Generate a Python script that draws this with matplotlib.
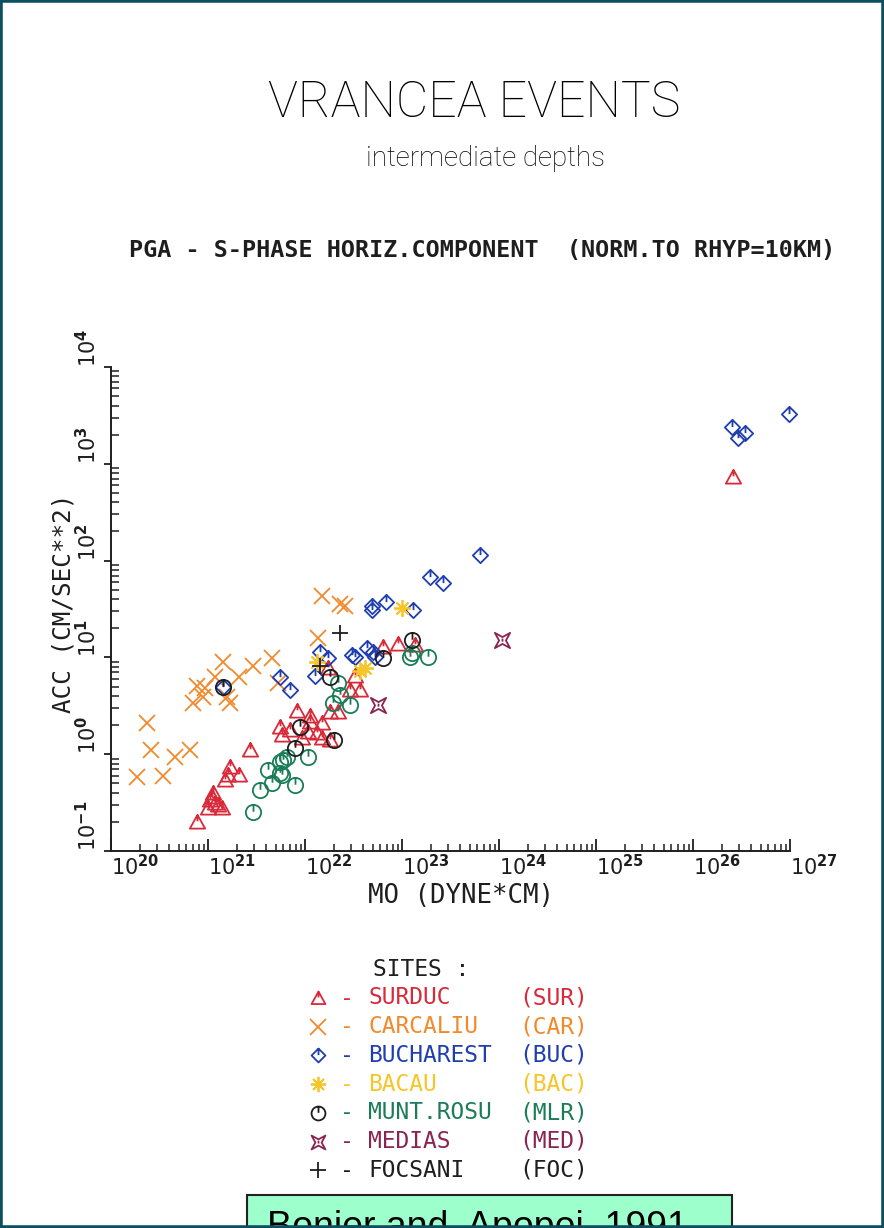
import numpy as np
import matplotlib
matplotlib.use('Agg')
from matplotlib import pyplot as plt
from matplotlib.path import Path
from matplotlib.patches import Rectangle


# seismic moment (dyne*cm) and normalised PGA (cm/s^2) per recording site
sur_m0 = [2.7e21, 1.7e21, 2.1e21, 1.5e21, 1.6e21, 1.13e21, 1.05e21, 1.18e21, 1.27e21,
          1.0e21, 1.4e21, 7.7e20, 1.1e21, 6.4e22, 9.1e22, 1.36e23, 1.73e22, 3.3e22,
          2.9e22, 3.7e22, 8.3e21, 1.13e22, 1.13e22, 1.5e22, 1.8e22, 2.2e22, 5.5e21,
          5.8e21, 7.0e21, 1.07e22, 1.33e22, 1.5e22, 9.3e21, 1.8e22, 2.6e26]
sur_acc = [1.1, 0.73, 0.61, 0.54, 0.61, 0.40, 0.34, 0.31, 0.30,
           0.28, 0.28, 0.20, 0.36, 12.7, 13.9, 13.3, 7.7, 6.5,
           4.6, 4.6, 2.8, 2.5, 2.14, 2.1, 2.7, 2.7, 1.9,
           1.57, 1.77, 1.69, 1.65, 1.46, 1.46, 1.39, 735]

car_m0 = [1.43e21, 2.9e21, 4.6e21, 1.18e21, 2.1e21, 7.7e20, 9.3e20, 5.3e21, 7.0e20,
          8.9e20, 1.57e21, 1.69e21, 2.35e20, 2.6e20, 4.6e20, 6.5e20, 1.85e20, 3.4e20,
          1.5e22, 2.3e22, 2.6e22, 1.36e22]
car_acc = [8.9, 8.1, 9.8, 6.2, 6.2, 5.1, 4.8, 5.4, 3.4,
           3.9, 3.9, 3.4, 2.1, 1.1, 0.93, 1.1, 0.58, 0.59,
           43.5, 36, 34, 15.7]

buc_m0 = [1.43e21, 5.5e21, 7.0e21, 4.9e22, 4.9e22, 6.8e22, 1.3e23, 1.43e22, 1.73e22,
          1.27e22, 3.05e22, 3.3e22, 4.35e22, 5.0e22, 5.3e22, 1.95e23, 2.65e23, 6.4e23,
          2.5e26, 2.9e26, 3.4e26, 9.8e26]
buc_acc = [5.0, 6.2, 4.6, 34, 30.6, 37, 30.6, 11.3, 9.8,
           6.5, 10.5, 10, 12.4, 11.3, 10, 67, 59, 113,
           2400, 1850, 2090, 3270]

bac_m0 = [1.0e23, 1.33e22, 4.2e22, 3.7e22]
bac_acc = [32.7, 8.9, 7.7, 7.3]

mlr_m0 = [2.9e21, 3.4e21, 4.2e21, 4.6e21, 5.5e21, 5.9e21, 1.27e23, 1.2e23, 1.85e23,
          2.2e22, 2.3e22, 1.95e22, 2.9e22, 6.5e21, 1.07e22, 5.5e21, 5.8e21, 7.9e21]
mlr_acc = [0.25, 0.43, 0.68, 0.51, 0.64, 0.87, 11, 10, 10,
           5.5, 4.1, 3.4, 3.2, 0.93, 0.93, 0.83, 0.61, 0.48]
# MLR points that came out in black ink on the plotter
mlr_dark_m0 = [1.27e23, 6.4e22, 1.8e22, 8.9e21, 7.9e21, 2.0e22, 1.43e21]
mlr_dark_acc = [15, 9.8, 6.2, 1.9, 1.15, 1.39, 5.0]

med_m0 = [5.7e22, 1.07e24]
med_acc = [3.2, 15]

foc_m0 = [2.3e22, 1.43e22]
foc_acc = [17.7, 8.1]

site_names = ['SURDUC', 'CARCALIU', 'BUCHAREST', 'BACAU', 'MUNT.ROSU', 'MEDIAS', 'FOCSANI']
site_codes = ['(SUR)', '(CAR)', '(BUC)', '(BAC)', '(MLR)', '(MED)', '(FOC)']

x_decades = list(range(20, 28))
y_decades = list(range(-1, 5))

RED = '#d92a3a'
ORANGE = '#f28a2c'
BLUE = '#1f3fae'
YELLOW = '#f6c52a'
GREEN = '#1b7d58'
PLUM = '#8a2452'
INK = '#1e1e1e'

MONO = 'DejaVu Sans Mono'
THIN = ['Roboto', 'DejaVu Sans']

M, L, C = Path.MOVETO, Path.LINETO, Path.CLOSEPOLY

tri_mark = Path([(-1, -0.8), (1, -0.8), (0, 1), (0, 0), (0, 1), (0, 0.15)],
                [M, L, L, C, M, L])
dia_mark = Path([(0, 1), (1, 0), (0, -1), (-1, 0), (0, 0), (0, 1), (0, 0.05)],
                [M, L, L, L, C, M, L])
circ_mark = Path.make_compound_path(Path.unit_circle(), Path([(0, 1), (0, 0.1)]))
med_mark = Path([(1, 1), (0, 0.45), (-1, 1), (-0.45, 0), (-1, -1), (0, -0.45),
                 (1, -1), (0.45, 0), (0, 0), (0, 0.25), (0, -0.15)],
                [M, L, L, L, L, L, L, L, C, M, L])
star_mark = (8, 2, 0)

site_styles = [
    (tri_mark, 11, RED, RED),
    ('x', 12, ORANGE, ORANGE),
    (dia_mark, 11, BLUE, BLUE),
    (star_mark, 12, YELLOW, YELLOW),
    (circ_mark, 11, INK, GREEN),
    (med_mark, 11, PLUM, PLUM),
    ('+', 12, INK, INK),
]


def put(ax, x, y, marker, ms, color):
    ax.plot(x, y, ls='none', marker=marker, ms=ms, mfc='none', mec=color,
            mew=1.3, clip_on=False)


def main():
    fig = plt.figure(figsize=(8.84, 12.28), dpi=100)
    fig.patch.set_facecolor('white')

    ax = fig.add_axes([111 / 884, 1 - 851 / 1228, 679 / 884, 484 / 1228])
    ax.set_xscale('log')
    ax.set_yscale('log')
    ax.set_xlim(1e20, 1e27)
    ax.set_ylim(1e-1, 1e4)
    for side in ['top', 'right']:
        ax.spines[side].set_visible(False)
    for side in ['left', 'bottom']:
        ax.spines[side].set_linewidth(1.4)
        ax.spines[side].set_color(INK)

    ax.tick_params(axis='x', which='major', direction='in', length=9, width=1.3,
                   color=INK, labelbottom=False)
    ax.tick_params(axis='x', which='minor', direction='in', length=5, width=1.1,
                   color=INK, labelbottom=False)
    ax.tick_params(axis='y', which='major', direction='out', length=5, width=1.3,
                   color=INK, labelleft=False)
    ax.tick_params(axis='y', which='minor', direction='in', length=6, width=1.1,
                   color=INK, labelleft=False)
    ax.xaxis.set_major_locator(matplotlib.ticker.LogLocator(base=10, numticks=20))
    ax.xaxis.set_minor_locator(matplotlib.ticker.LogLocator(base=10, subs=np.arange(2, 10), numticks=20))
    ax.yaxis.set_major_locator(matplotlib.ticker.LogLocator(base=10, numticks=20))
    ax.yaxis.set_minor_locator(matplotlib.ticker.LogLocator(base=10, subs=np.arange(2, 10), numticks=20))

    for k in x_decades:
        ax.text(10.0 ** k, -0.006, rf'$10^{{\mathbf{{{k}}}}}$', transform=ax.get_xaxis_transform(),
                ha='left', va='top', fontsize=15, color=INK)
    for k in y_decades:
        ax.text(-0.016, 10.0 ** k, rf'$10^{{\mathbf{{{k}}}}}$', transform=ax.get_yaxis_transform(),
                ha='right', va='bottom', rotation=90, fontsize=15, color=INK)

    # data, drawn site by site
    put(ax, sur_m0, sur_acc, tri_mark, 11, RED)
    put(ax, car_m0, car_acc, 'x', 12, ORANGE)
    put(ax, buc_m0, buc_acc, dia_mark, 11, BLUE)
    put(ax, bac_m0, bac_acc, star_mark, 12, YELLOW)
    put(ax, mlr_m0, mlr_acc, circ_mark, 11, GREEN)
    put(ax, mlr_dark_m0, mlr_dark_acc, circ_mark, 11, INK)
    put(ax, med_m0, med_acc, med_mark, 11, PLUM)
    put(ax, foc_m0, foc_acc, '+', 12, INK)

    # page overlay in pixel units for titles and the site key
    ov = fig.add_axes([0, 0, 1, 1], zorder=-1)
    ov.set_xlim(0, 884)
    ov.set_ylim(1228, 0)
    ov.axis('off')

    ov.text(474, 103, 'VRANCEA EVENTS', family=THIN, fontweight='light', fontsize=36,
            ha='center', va='center', color='black')
    ov.text(485, 159, 'intermediate depths', family=THIN, fontweight='light', fontsize=20,
            ha='center', va='center', color='black')
    ov.text(482, 251, 'PGA - S-PHASE HORIZ.COMPONENT  (NORM.TO RHYP=10KM)', family=MONO,
            fontweight='bold', fontsize=16.8, ha='center', va='center', color=INK)
    ov.text(461, 896, 'MO (DYNE*CM)', family=MONO, fontsize=18.5, ha='center', va='center', color=INK)
    ov.text(64, 603, 'ACC (CM/SEC**2)', family=MONO, fontsize=17.5, rotation=90,
            ha='center', va='center', color=INK)

    ov.text(421, 970, 'SITES :', family=MONO, fontsize=16.5, ha='center', va='center', color=INK)
    for i, (name, code) in enumerate(zip(site_names, site_codes)):
        yy = 998 + i * 28.7
        marker, ms, mcolor, tcolor = site_styles[i]
        ov.plot([318], [yy], ls='none', marker=marker, ms=ms - 1, mfc='none', mec=mcolor, mew=1.3)
        ov.text(347, yy, '-', family=MONO, fontsize=16.5, ha='center', va='center', color=tcolor)
        ov.text(368, yy, name, family=MONO, fontsize=16.5, ha='left', va='center', color=tcolor)
        ov.text(519, yy, code, family=MONO, fontsize=16.5, ha='left', va='center', color=tcolor)

    # reference box cut by the lower page edge
    fig.patches.append(Rectangle((247 / 884, -0.05), 485 / 884, 0.05 + 1 - 1195 / 1228,
                                 transform=fig.transFigure, facecolor='#9dffcc',
                                 edgecolor='#222222', lw=1.5, zorder=5))
    fig.text(267 / 884, 1 - 1238 / 1228, 'Bonjer and  Apopei, 1991', fontsize=27,
             family=['Liberation Sans', 'DejaVu Sans'], ha='left', va='baseline', zorder=6)

    fig.patches.append(Rectangle((0, 0), 1, 1, transform=fig.transFigure, fill=False,
                                 edgecolor='#0d4f5f', lw=4, zorder=10))

    fig.savefig('out.png', dpi=100)


if __name__ == '__main__':
    main()
